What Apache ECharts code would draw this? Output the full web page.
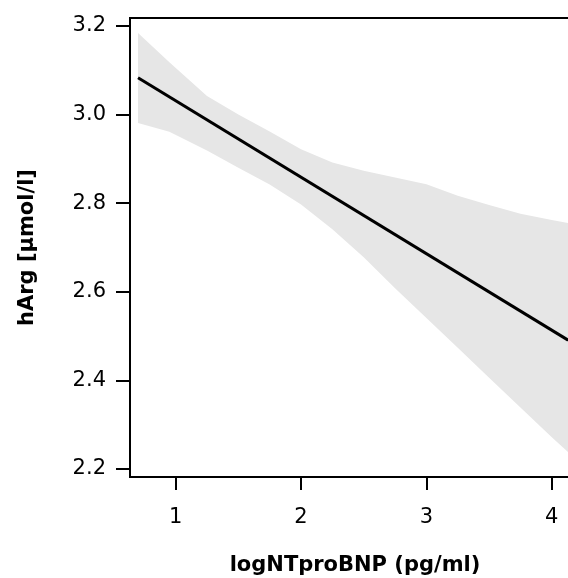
<!DOCTYPE html>
<html>
<head>
<meta charset="utf-8">
<script src="https://cdn.jsdelivr.net/npm/echarts@6/dist/echarts.min.js"></script>
<style>
html,body{margin:0;padding:0;background:#fff;overflow:hidden;}
#chart{width:568px;height:578px;}
</style>
</head>
<body>
<div id="chart"></div>
<script>
// Tick labels
const xTicks = [1, 2, 3, 4];
const yTicks = [2.2, 2.4, 2.6, 2.8, 3.0, 3.2];

// Confidence band (x grid, upper and lower bounds)
const bandX     = [0.70, 0.95, 1.25, 1.50, 1.75, 2.00, 2.25, 2.50, 2.75, 3.00, 3.25, 3.50, 3.75, 4.00, 4.13];
const bandUpper = [3.184, 3.118, 3.042, 3.000, 2.962, 2.922, 2.892, 2.873, 2.858, 2.843, 2.817, 2.796, 2.776, 2.762, 2.755];
const bandLower = [2.981, 2.961, 2.919, 2.880, 2.842, 2.797, 2.741, 2.678, 2.608, 2.541, 2.474, 2.406, 2.339, 2.272, 2.238];

// Fitted regression line
const fitX = [0.70, 4.13];
const fitY = [3.083, 2.491];

const chart = echarts.init(document.getElementById('chart'), null, {renderer: 'canvas'});
const font = '"DejaVu Sans", "Liberation Sans", Arial, sans-serif';

const option = {
  animation: false,
  backgroundColor: '#ffffff',
  grid: {
    left: 130, top: 18, width: 450, bottom: 101,
    outerBoundsMode: 'none',
    containLabel: false,
    show: true, borderColor: '#000', borderWidth: 2, backgroundColor: 'transparent'
  },
  xAxis: {
    type: 'value',
    min: 0.636, max: 4.225,
    splitLine: {show: false},
    axisLine: {show: true, lineStyle: {color: '#000', width: 2}},
    axisTick: {show: true, length: 13, lineStyle: {color: '#000', width: 2}, customValues: xTicks},
    axisLabel: {color: '#000', fontSize: 21, fontFamily: font, margin: 30, customValues: xTicks,
      formatter: v => String(v)},
    name: 'logNTproBNP (pg/ml)',
    nameLocation: 'middle',
    nameGap: 78,
    nameTextStyle: {color: '#000', fontSize: 21, fontWeight: 'bold', fontFamily: font}
  },
  yAxis: {
    type: 'value',
    min: 2.182, max: 3.218,
    splitLine: {show: false},
    axisLine: {show: true, lineStyle: {color: '#000', width: 2}},
    axisTick: {show: true, length: 14, lineStyle: {color: '#000', width: 2}, customValues: yTicks},
    axisLabel: {color: '#000', fontSize: 21, fontFamily: font, margin: 24, customValues: yTicks,
      formatter: v => v.toFixed(1)},
    name: 'hArg [µmol/l]',
    nameLocation: 'middle',
    nameGap: 92,
    nameTextStyle: {color: '#000', fontSize: 21, fontWeight: 'bold', fontFamily: font}
  },
  series: [
    {
      type: 'custom',
      data: [0],
      silent: true,
      z: 1,
      renderItem: function (params, api) {
        const pts = [];
        for (let i = 0; i < bandX.length; i++) pts.push(api.coord([bandX[i], bandUpper[i]]));
        for (let i = bandX.length - 1; i >= 0; i--) pts.push(api.coord([bandX[i], bandLower[i]]));
        return {type: 'polygon', shape: {points: pts, smooth: 0}, style: {fill: '#e6e6e6', stroke: null}};
      }
    },
    {
      type: 'line',
      z: 3,
      symbol: 'none',
      silent: true,
      data: fitX.map((x, i) => [x, fitY[i]]),
      lineStyle: {color: '#000', width: 3}
    }
  ]
};
chart.setOption(option);
</script>
</body>
</html>
